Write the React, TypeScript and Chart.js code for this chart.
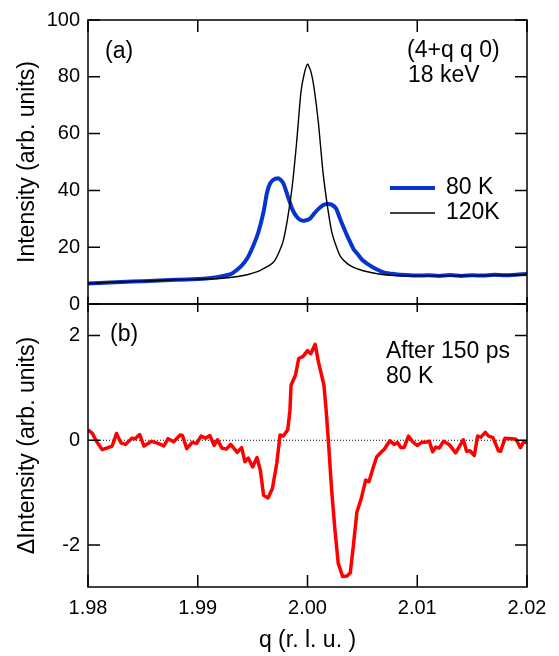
import React, { useEffect, useRef } from "react";
import { Chart, registerables } from "chart.js";
Chart.register(...registerables);

const FONT = "'Liberation Sans', Arial, Helvetica, sans-serif";

// ---- tick values ----
const xTickValues = [1.98, 1.99, 2.0, 2.01, 2.02];
const topYTickValues = [0, 20, 40, 60, 80, 100];
const bottomYTickValues = [-2, 0, 2];

// ---- panel (a): 80 K ----
const q80K = [
  1.98, 1.982, 1.984, 1.986, 1.988, 1.99, 1.991, 1.992, 1.993, 1.9935, 1.994, 1.9945,
  1.995, 1.9955, 1.996, 1.9963, 1.9966, 1.997, 1.9974, 1.9978, 1.9982, 1.9986, 1.999,
  1.9994, 1.9998, 2.0002, 2.0006, 2.001, 2.0014, 2.0018, 2.0022, 2.0026, 2.003, 2.0034,
  2.0038, 2.0042, 2.0046, 2.005, 2.0056, 2.0062, 2.007, 2.008, 2.009, 2.01, 2.011, 2.012,
  2.013, 2.014, 2.015, 2.016, 2.017, 2.018, 2.019, 2.02,
];
const intensity80K = [
  7.2, 7.6, 7.9, 8.2, 8.5, 8.8, 9.1, 9.6, 10.5, 11.8, 13.5, 16.0,
  20.0, 25.0, 32.5, 39.0, 42.5, 44.0, 44.2, 42.5, 38.0, 33.5, 30.8,
  29.5, 29.4, 30.0, 31.8, 33.5, 34.8, 35.2, 35.0, 33.6, 29.7, 26.0,
  22.5, 19.3, 17.4, 15.5, 13.8, 12.4, 11.0, 10.5, 10.2, 10.0, 10.1, 9.9,
  10.2, 9.9, 10.1, 10.0, 10.3, 10.1, 10.3, 10.6,
];

// ---- panel (a): 120 K ----
const q120K = [
  1.98, 1.982, 1.984, 1.986, 1.988, 1.99, 1.992, 1.9935, 1.9945, 1.9955, 1.996, 1.9966,
  1.997, 1.9974, 1.9978, 1.9982, 1.9986, 1.999, 1.9994, 1.9997, 2.0, 2.0003, 2.0006,
  2.001, 2.0014, 2.0018, 2.0022, 2.0026, 2.003, 2.0036, 2.0042, 2.005, 2.006, 2.007,
  2.008, 2.01, 2.012, 2.015, 2.018, 2.02,
];
const intensity120K = [
  7.2, 7.6, 7.9, 8.2, 8.5, 8.7, 9.0, 9.6, 10.3, 11.5, 12.5, 13.8,
  15.2, 18.2, 22.4, 30.4, 41.2, 56.5, 74.5, 81.0, 84.5, 82.0, 76.0,
  63.6, 46.8, 34.9, 25.6, 20.5, 16.8, 14.3, 12.9, 11.8, 10.9, 10.3,
  10.0, 9.9, 9.9, 10.0, 10.1, 10.3,
];

// ---- panel (b): difference after 150 ps ----
const qDiff = [
  1.98, 1.9804, 1.9808, 1.9813, 1.9817, 1.9822, 1.9826, 1.983, 1.9834, 1.984, 1.9843,
  1.9847, 1.9851, 1.9858, 1.9864, 1.9869, 1.9873, 1.9878, 1.9884, 1.9886, 1.989, 1.9895,
  1.9899, 1.9903, 1.9907, 1.9911, 1.9915, 1.9918, 1.9922, 1.9926, 1.993, 1.9936, 1.994,
  1.9943, 1.9946, 1.995, 1.9954, 1.9957, 1.996, 1.9964, 1.9968, 1.9972, 1.9975, 1.9978,
  1.9982, 1.9984, 1.9985, 1.9989, 1.9992, 1.9996, 2.0, 2.0003, 2.0007, 2.001, 2.0015,
  2.0017, 2.0019, 2.0022, 2.0025, 2.0028, 2.0032, 2.0036, 2.0039, 2.0042, 2.0045, 2.0049,
  2.0053, 2.0056, 2.006, 2.0063, 2.0066, 2.007, 2.0075, 2.0079, 2.0082, 2.0085, 2.0088,
  2.0092, 2.0096, 2.01, 2.0104, 2.0107, 2.0111, 2.0114, 2.0117, 2.012, 2.0124, 2.0129,
  2.0135, 2.0142, 2.0145, 2.0148, 2.0152, 2.0155, 2.0158, 2.0162, 2.0165, 2.0169, 2.0174,
  2.0176, 2.018, 2.0186, 2.019, 2.0194, 2.0197, 2.02,
];
const deltaIntensity = [
  0.2, 0.13, -0.03, -0.18, -0.15, -0.11, 0.13, -0.05, -0.08, 0.04, 0.03,
  0.11, -0.11, -0.02, -0.06, -0.11, 0.03, -0.03, 0.1, 0.09, -0.16, -0.04,
  -0.06, 0.08, 0.04, 0.09, -0.1, 0.01, -0.15, -0.17, -0.08, -0.23, -0.14,
  -0.41, -0.34, -0.51, -0.33, -0.57, -1.05, -1.1, -0.92, -0.44, 0.1, 0.08,
  0.2, 0.57, 1.05, 1.24, 1.56, 1.6, 1.71, 1.65, 1.83, 1.49, 1.05,
  0.57, 0.0, -0.95, -1.71, -2.35, -2.6, -2.59, -2.53, -1.97, -1.37, -1.11,
  -0.76, -0.79, -0.51, -0.32, -0.25, -0.17, -0.01, -0.08, -0.04, -0.14, -0.14,
  0.08, -0.03, -0.1, -0.04, -0.04, -0.02, -0.22, -0.13, -0.15, -0.02, -0.08,
  -0.24, 0.01, -0.21, -0.2, -0.29, 0.08, 0.06, 0.15, 0.08, 0.05, -0.2,
  -0.21, 0.04, 0.03, 0.02, -0.14, -0.03, -0.05,
];

const BLUE = "#0535cc";
const RED = "#ff0000";

const toPoints = (xs: number[], ys: number[]) => xs.map((x, i) => ({ x, y: ys[i] }));

type TextItem = { text: string; x: number; y: number };
type LegendItem = { label: string; color: string; width: number; y: number };

function framePlugin(
  id: string,
  yVals: number[],
  lens: { top: number; bottom: number; left: number; right: number },
  texts: TextItem[],
  legend: LegendItem[] = []
) {
  return {
    id,
    afterDatasetsDraw(chart: any) {
      const { ctx, chartArea } = chart;
      const { left, right, top, bottom } = chartArea;
      const xs = chart.scales.x;
      const ys = chart.scales.y;
      ctx.save();
      ctx.strokeStyle = "#000";
      ctx.lineWidth = 1.5;
      ctx.strokeRect(left, top, right - left, bottom - top);
      ctx.beginPath();
      xTickValues.forEach((v) => {
        const px = xs.getPixelForValue(v);
        ctx.moveTo(px, top);
        ctx.lineTo(px, top + lens.top);
        ctx.moveTo(px, bottom);
        ctx.lineTo(px, bottom - lens.bottom);
      });
      yVals.forEach((v) => {
        const py = ys.getPixelForValue(v);
        ctx.moveTo(left, py);
        ctx.lineTo(left + lens.left, py);
        ctx.moveTo(right, py);
        ctx.lineTo(right - lens.right, py);
      });
      ctx.stroke();
      ctx.fillStyle = "#000";
      ctx.font = `23px ${FONT}`;
      ctx.textAlign = "left";
      ctx.textBaseline = "middle";
      texts.forEach((t) => ctx.fillText(t.text, t.x, t.y));
      legend.forEach((l) => {
        ctx.beginPath();
        ctx.strokeStyle = l.color;
        ctx.lineWidth = l.width;
        ctx.moveTo(390, l.y);
        ctx.lineTo(435, l.y);
        ctx.stroke();
        ctx.fillText(l.label, 446, l.y);
      });
      ctx.restore();
    },
  };
}

const tickFont = { family: FONT, size: 20 };
const titleFont = { family: FONT, size: 23 };

const fixYWidth = (s: any) => {
  s.width = 88;
  s.paddingTop = 0;
  s.paddingBottom = 0;
};
const fixXHeight = (h: number) => (s: any) => {
  s.height = h;
  s.paddingLeft = 0;
  s.paddingRight = 0;
};

export default function App() {
  const topRef = useRef<HTMLCanvasElement>(null);
  const botRef = useRef<HTMLCanvasElement>(null);

  useEffect(() => {
    const top = new Chart(topRef.current as HTMLCanvasElement, {
      type: "line",
      data: {
        datasets: [
          {
            label: "120K",
            data: toPoints(q120K, intensity120K),
            borderColor: "#000",
            borderWidth: 1.4,
            pointRadius: 0,
            tension: 0.2,
          },
          {
            label: "80 K",
            data: toPoints(q80K, intensity80K),
            borderColor: BLUE,
            borderWidth: 4,
            pointRadius: 0,
            tension: 0.2,
            borderJoinStyle: "round",
          },
        ],
      },
      options: {
        responsive: false,
        animation: false,
        events: [],
        layout: { padding: { top: 20, right: 32, bottom: 16, left: 0 } },
        plugins: { legend: { display: false }, tooltip: { enabled: false } },
        scales: {
          x: { type: "linear", min: 1.98, max: 2.02, display: false, afterFit: fixXHeight(0) },
          y: {
            type: "linear",
            min: 0,
            max: 100,
            afterBuildTicks: (s: any) => {
              s.ticks = topYTickValues.map((v) => ({ value: v }));
            },
            afterFit: fixYWidth,
            grid: { display: false, drawTicks: false },
            border: { display: false },
            ticks: { color: "#000", font: tickFont, padding: 8 },
            title: {
              display: true,
              text: "Intensity (arb. units)",
              color: "#000",
              font: titleFont,
              padding: { top: 14, bottom: 0 },
            },
          },
        },
      } as any,
      plugins: [
        framePlugin(
          "frameTop",
          topYTickValues,
          { top: 12, bottom: 7, left: 12, right: 12 },
          [
            { text: "(a)", x: 105, y: 52 },
            { text: "(4+q q 0)", x: 407, y: 51 },
            { text: "18 keV", x: 408, y: 76 },
          ],
          [
            { label: "80 K", color: BLUE, width: 4, y: 188 },
            { label: "120K", color: "#000", width: 1.4, y: 213 },
          ]
        ),
      ],
    });

    const bot = new Chart(botRef.current as HTMLCanvasElement, {
      type: "line",
      data: {
        datasets: [
          {
            label: "After 150 ps",
            data: toPoints(qDiff, deltaIntensity),
            borderColor: RED,
            borderWidth: 3.5,
            pointRadius: 0,
            tension: 0,
            borderJoinStyle: "round",
          },
          {
            label: "zero",
            data: [
              { x: 1.98, y: 0 },
              { x: 2.02, y: 0 },
            ],
            borderColor: "#000",
            borderWidth: 1,
            borderDash: [1, 2],
            pointRadius: 0,
          },
        ],
      },
      options: {
        responsive: false,
        animation: false,
        events: [],
        layout: { padding: { top: 4, right: 32, bottom: 0, left: 0 } },
        plugins: { legend: { display: false }, tooltip: { enabled: false } },
        scales: {
          x: {
            type: "linear",
            min: 1.98,
            max: 2.02,
            afterBuildTicks: (s: any) => {
              s.ticks = xTickValues.map((v) => ({ value: v }));
            },
            afterFit: fixXHeight(69),
            grid: { display: false, drawTicks: false },
            border: { display: false },
            ticks: {
              color: "#000",
              font: tickFont,
              padding: 9,
              maxRotation: 0,
              callback: (v: any) => Number(v).toFixed(2),
            },
            title: {
              display: true,
              text: "q (r. l. u. )",
              color: "#000",
              font: titleFont,
              padding: { top: 0, bottom: 2 },
            },
          },
          y: {
            type: "linear",
            min: -2.8,
            max: 2.6,
            afterBuildTicks: (s: any) => {
              s.ticks = bottomYTickValues.map((v) => ({ value: v }));
            },
            afterFit: fixYWidth,
            grid: { display: false, drawTicks: false },
            border: { display: false },
            ticks: { color: "#000", font: tickFont, padding: 8 },
            title: {
              display: true,
              text: "\u0394Intensity (arb. units)",
              color: "#000",
              font: titleFont,
              padding: { top: 14, bottom: 0 },
            },
          },
        },
      } as any,
      plugins: [
        framePlugin(
          "frameBottom",
          bottomYTickValues,
          { top: 8, bottom: 12, left: 12, right: 12 },
          [
            { text: "(b)", x: 110, y: 35 },
            { text: "After 150 ps", x: 386, y: 52 },
            { text: "80 K", x: 386, y: 77 },
          ]
        ),
      ],
    });

    return () => {
      top.destroy();
      bot.destroy();
    };
  }, []);

  return (
    <div style={{ position: "absolute", left: 0, top: 0, width: 559, height: 656, background: "#fff" }}>
      <canvas
        ref={topRef}
        width={559}
        height={320}
        style={{ position: "absolute", left: 0, top: 0, width: 559, height: 320 }}
      />
      <canvas
        ref={botRef}
        width={559}
        height={356}
        style={{ position: "absolute", left: 0, top: 300, width: 559, height: 356 }}
      />
    </div>
  );
}
